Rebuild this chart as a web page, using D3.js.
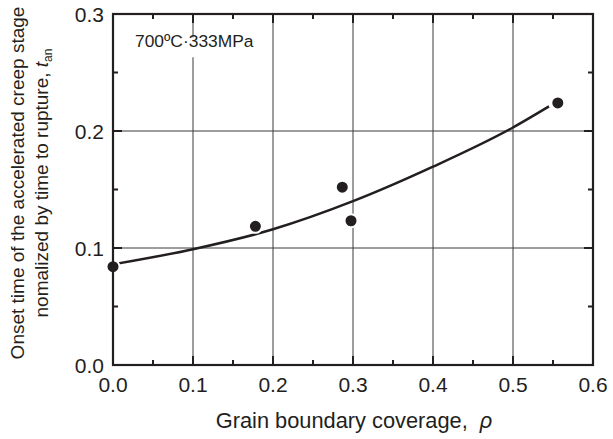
<!DOCTYPE html>
<html><head><meta charset="utf-8">
<script src="https://cdn.jsdelivr.net/npm/d3@7"></script>
<style>body{margin:0;background:#fff}svg{display:block}text{font-family:"Liberation Sans",Arial,sans-serif;fill:#231f20}</style>
</head><body><svg id="c" width="613" height="439"></svg>
<script>
const coverage = [0.0, 0.178, 0.2866, 0.2975, 0.556];
const onsetTime = [0.084, 0.1185, 0.152, 0.1233, 0.224];
const fitX = [0.0, 0.1, 0.2, 0.3, 0.4, 0.5, 0.545];
const fitY = [0.086, 0.099, 0.116, 0.140, 0.1695, 0.203, 0.221];
const xTicks = [0.0, 0.1, 0.2, 0.3, 0.4, 0.5, 0.6];
const yTicks = [0.0, 0.1, 0.2, 0.3];
const xMinor = [0.05, 0.15, 0.25, 0.35, 0.45, 0.55];
const yMinor = [0.05, 0.15, 0.25];
const annotation = "700ºC·333MPa";

const ink = "#231f20";
const svg = d3.select("#c");
const L = 113, R = 593, T = 14, B = 365;
const x = d3.scaleLinear().domain([0, 0.6]).range([L, R]);
const y = d3.scaleLinear().domain([0, 0.3]).range([B, T]);

// gridlines
const g = svg.append("g");
g.selectAll(".gx").data(xTicks.slice(1, -1)).join("line")
  .attr("x1", d => x(d)).attr("x2", d => x(d)).attr("y1", T).attr("y2", B)
  .attr("stroke", "#3a3a3a").attr("stroke-width", 1);
g.selectAll(".gy").data(yTicks.slice(1, -1)).join("line")
  .attr("y1", d => y(d)).attr("y2", d => y(d)).attr("x1", L).attr("x2", R)
  .attr("stroke", "#3a3a3a").attr("stroke-width", 1);

// annotation with white background
const ann = svg.append("g");
ann.append("rect").attr("x", x(0.025)).attr("y", y(0.28)).attr("width", x(0.155) - x(0.025)).attr("height", y(0.263) - y(0.28)).attr("fill", "#fff");
ann.append("text").attr("x", 135).attr("y", 47).attr("font-size", 17.4).text(annotation);

// ticks (inward, all four sides)
const tk = svg.append("g").attr("stroke", ink).attr("stroke-width", 2);
xTicks.forEach(d => {
  tk.append("line").attr("x1", x(d)).attr("x2", x(d)).attr("y1", B).attr("y2", B - 9);
  tk.append("line").attr("x1", x(d)).attr("x2", x(d)).attr("y1", T).attr("y2", T + 9);
});
xMinor.forEach(d => {
  tk.append("line").attr("x1", x(d)).attr("x2", x(d)).attr("y1", B).attr("y2", B - 5);
  tk.append("line").attr("x1", x(d)).attr("x2", x(d)).attr("y1", T).attr("y2", T + 5);
});
yTicks.forEach(d => {
  tk.append("line").attr("y1", y(d)).attr("y2", y(d)).attr("x1", L).attr("x2", L + 9);
  tk.append("line").attr("y1", y(d)).attr("y2", y(d)).attr("x1", R).attr("x2", R - 9);
});
yMinor.forEach(d => {
  tk.append("line").attr("y1", y(d)).attr("y2", y(d)).attr("x1", L).attr("x2", L + 5);
  tk.append("line").attr("y1", y(d)).attr("y2", y(d)).attr("x1", R).attr("x2", R - 5);
});

// fit curve
const line = d3.line().x(d => x(d[0])).y(d => y(d[1])).curve(d3.curveMonotoneX);
svg.append("path").datum(fitX.map((v, i) => [v, fitY[i]]))
  .attr("d", line).attr("fill", "none").attr("stroke", ink).attr("stroke-width", 2.5);

// points with white halo
svg.append("g").selectAll("circle").data(coverage.map((v, i) => [v, onsetTime[i]])).join("circle")
  .attr("cx", d => x(d[0])).attr("cy", d => y(d[1])).attr("r", 6.5)
  .attr("fill", ink).attr("stroke", "#fff").attr("stroke-width", 2);

// frame
svg.append("rect").attr("x", L).attr("y", T).attr("width", R - L).attr("height", B - T)
  .attr("fill", "none").attr("stroke", ink).attr("stroke-width", 2.2);

// tick labels
svg.append("g").selectAll("text").data(xTicks).join("text")
  .attr("x", d => x(d)).attr("y", 392).attr("text-anchor", "middle").attr("font-size", 21)
  .text(d => d.toFixed(1));
svg.append("g").selectAll("text").data(yTicks).join("text")
  .attr("x", 104).attr("y", d => y(d) + 7.5).attr("text-anchor", "end").attr("font-size", 21)
  .text(d => d.toFixed(1));

// axis titles
const xt = svg.append("text").attr("x", 354).attr("y", 428).attr("text-anchor", "middle").attr("font-size", 21.8);
xt.append("tspan").text("Grain boundary coverage,");
xt.append("tspan").attr("dx", 12).attr("font-style", "italic").text("ρ");

const yt = svg.append("g").attr("transform", "translate(0,183) rotate(-90)");
yt.append("text").attr("x", 0).attr("y", 24).attr("text-anchor", "middle").attr("font-size", 19)
  .text("Onset time of the accelerated creep stage");
const y2 = yt.append("text").attr("x", 0).attr("y", 48).attr("text-anchor", "middle").attr("font-size", 19);
y2.append("tspan").text("nomalized by time to rupture, ");
y2.append("tspan").attr("font-style", "italic").text("t");
y2.append("tspan").attr("font-size", 12).attr("dy", 4).text("an");
</script></body></html>
